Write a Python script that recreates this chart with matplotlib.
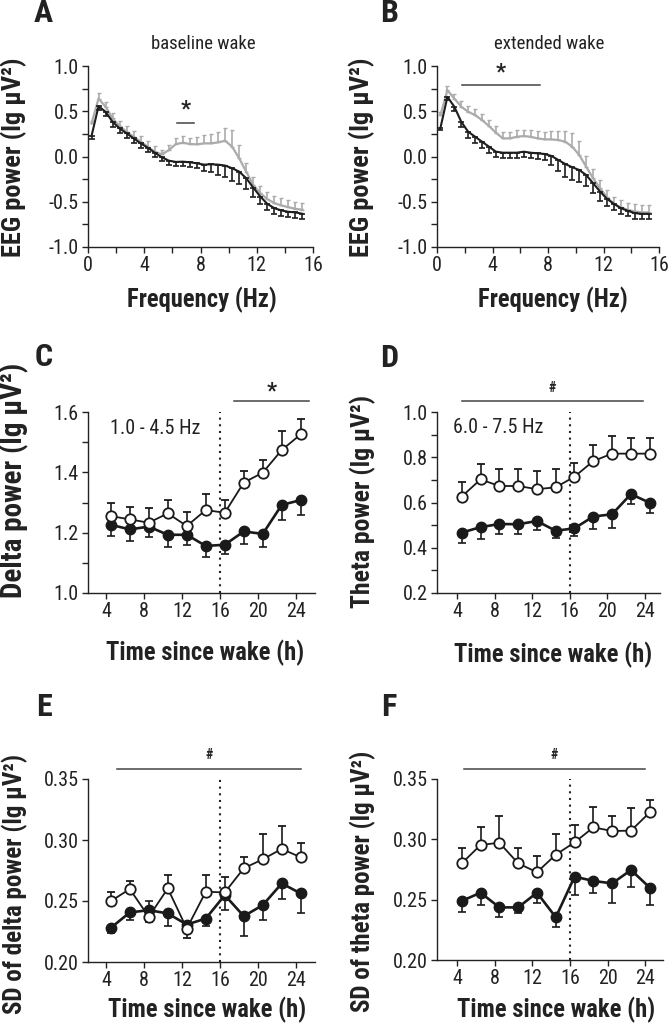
import matplotlib
matplotlib.use('Agg')
import matplotlib.pyplot as plt
from matplotlib import font_manager
from matplotlib.ticker import MultipleLocator, FormatStrFormatter

# pick a condensed sans font if one is installed
_fonts = font_manager.fontManager.ttflist
_names = {f.name for f in _fonts}
_stretch = 'normal'
_family = 'Liberation Sans'
for cand in ['Liberation Sans Narrow', 'Arial Narrow', 'Roboto Condensed',
             'Open Sans Condensed', 'DejaVu Sans Condensed']:
    if cand in _names:
        _family = cand
        break
else:
    for f in _fonts:
        if f.name in ('Liberation Sans', 'Roboto', 'Open Sans', 'DejaVu Sans') and \
                str(f.stretch) in ('condensed', 'semi-condensed', 'extra-condensed', '75', '87', '62'):
            _family = f.name
            _stretch = 'condensed'
            break
plt.rcParams['font.family'] = [_family, 'Liberation Sans', 'DejaVu Sans']
plt.rcParams['font.stretch'] = _stretch
NARROW = (_family != 'Liberation Sans') or _stretch == 'condensed'
SC = 1.0 if NARROW else 0.86   # shrink text a bit when no condensed face exists

# ---------------- data ----------------
freq = [0.25, 0.75, 1.25, 1.75, 2.25, 2.75, 3.25, 3.75, 4.25, 4.75, 5.25, 5.75,
        6.25, 6.75, 7.25, 7.75, 8.25, 8.75, 9.25, 9.75, 10.25, 10.75, 11.25,
        11.75, 12.25, 12.75, 13.25, 13.75, 14.25, 14.75, 15.25]

# Panel A: baseline wake
a_black = [0.226, 0.556, 0.494, 0.383, 0.31, 0.255, 0.2, 0.145, 0.097, 0.042, -0.009,
           -0.046, -0.06, -0.057, -0.064, -0.075, -0.09, -0.086, -0.09, -0.1, -0.13,
           -0.167, -0.24, -0.343, -0.442, -0.523, -0.571, -0.596, -0.611, -0.618, -0.633]
a_black_err = [0.03, 0.04, 0.05, 0.055, 0.055, 0.055, 0.055, 0.055, 0.05, 0.05, 0.045,
               0.045, 0.045, 0.05, 0.05, 0.055, 0.07, 0.09, 0.11, 0.13, 0.14, 0.14,
               0.12, 0.1, 0.08, 0.07, 0.06, 0.06, 0.06, 0.06, 0.06]
a_gray = [0.365, 0.64, 0.55, 0.42, 0.336, 0.273, 0.218, 0.163, 0.108, 0.053, 0.024,
          0.07, 0.138, 0.152, 0.138, 0.134, 0.145, 0.145, 0.156, 0.174, 0.108, -0.02,
          -0.167, -0.314, -0.405, -0.471, -0.515, -0.541, -0.56, -0.578, -0.589]
a_gray_err = [0.03, 0.06, 0.05, 0.06, 0.06, 0.065, 0.065, 0.065, 0.065, 0.06, 0.05,
              0.06, 0.07, 0.07, 0.07, 0.08, 0.09, 0.1, 0.12, 0.14, 0.18, 0.15, 0.1,
              0.09, 0.08, 0.08, 0.08, 0.08, 0.08, 0.08, 0.08]

# Panel B: extended wake
b_black = [0.318, 0.659, 0.55, 0.383, 0.273, 0.218, 0.163, 0.108, 0.053, 0.042, 0.042,
           0.042, 0.053, 0.042, 0.035, 0.028, 0.006, -0.039, -0.083, -0.119, -0.149,
           -0.204, -0.295, -0.387, -0.468, -0.523, -0.571, -0.6, -0.626, -0.633, -0.633]
b_black_err = [0.03, 0.04, 0.05, 0.06, 0.065, 0.065, 0.065, 0.065, 0.06, 0.06, 0.055,
               0.055, 0.055, 0.06, 0.06, 0.07, 0.1, 0.12, 0.14, 0.14, 0.13, 0.12,
               0.11, 0.1, 0.08, 0.07, 0.06, 0.06, 0.06, 0.06, 0.06]
b_gray = [0.457, 0.732, 0.64, 0.55, 0.494, 0.457, 0.402, 0.336, 0.262, 0.2, 0.2,
          0.218, 0.226, 0.218, 0.2, 0.189, 0.189, 0.182, 0.163, 0.108, 0.017, -0.112,
          -0.24, -0.35, -0.45, -0.523, -0.563, -0.589, -0.607, -0.618, -0.618]
b_gray_err = [0.03, 0.05, 0.055, 0.06, 0.065, 0.07, 0.07, 0.07, 0.07, 0.07, 0.07,
              0.07, 0.07, 0.075, 0.08, 0.08, 0.09, 0.1, 0.12, 0.15, 0.15, 0.12,
              0.1, 0.09, 0.08, 0.08, 0.08, 0.08, 0.08, 0.08, 0.08]

hours = [4.5, 6.5, 8.5, 10.5, 12.5, 14.5, 16.5, 18.5, 20.5, 22.5, 24.5]

# Panel C: delta power 1.0-4.5 Hz
c_open = [1.255, 1.244, 1.233, 1.264, 1.222, 1.275, 1.266, 1.366, 1.399, 1.474, 1.526]
c_open_lo = [0, 0, 0, 0, 0, 0, 0, 0, 0, 0, 0]
c_open_hi = [0.045, 0.042, 0.048, 0.044, 0.048, 0.052, 0.042, 0.039, 0.041, 0.062, 0.05]
c_fill = [1.226, 1.211, 1.22, 1.193, 1.193, 1.156, 1.16, 1.204, 1.196, 1.292, 1.308]
c_fill_lo = [0.036, 0.038, 0.033, 0.041, 0.033, 0.037, 0.03, 0.041, 0.044, 0.05, 0.049]
c_fill_hi = [0, 0, 0, 0, 0, 0, 0, 0, 0, 0, 0]

# Panel D: theta power 6.0-7.5 Hz
d_open = [0.626, 0.702, 0.673, 0.673, 0.659, 0.667, 0.714, 0.783, 0.816, 0.816, 0.816]
d_open_lo = [0, 0, 0, 0, 0, 0, 0, 0, 0, 0, 0]
d_open_hi = [0.066, 0.07, 0.073, 0.077, 0.081, 0.082, 0.061, 0.07, 0.077, 0.071, 0.07]
d_fill = [0.467, 0.491, 0.505, 0.504, 0.518, 0.475, 0.486, 0.538, 0.548, 0.637, 0.599]
d_fill_lo = [0.044, 0.052, 0.044, 0.043, 0.039, 0.033, 0.036, 0.055, 0.062, 0.044, 0.047]
d_fill_hi = [0, 0, 0, 0, 0, 0, 0, 0, 0, 0, 0]

# Panel E: SD of delta power
e_open = [0.2499, 0.2598, 0.237, 0.2603, 0.2274, 0.2576, 0.257, 0.2768, 0.2842, 0.2927, 0.2858]
e_open_lo = [0, 0, 0.004, 0, 0.0077, 0, 0, 0, 0, 0, 0]
e_open_hi = [0.0077, 0.0066, 0, 0.011, 0, 0.0137, 0.013, 0.0096, 0.0208, 0.0189, 0.0116]
e_fill = [0.228, 0.2406, 0.2425, 0.2398, 0.2307, 0.2356, 0.2548, 0.2376, 0.2466, 0.2644, 0.2562]
e_fill_lo = [0.004, 0.0058, 0, 0.0105, 0.003, 0.0063, 0.0123, 0.0162, 0.0118, 0.0131, 0.0164]
e_fill_hi = [0, 0, 0.0075, 0, 0, 0, 0, 0, 0, 0, 0]

# Panel F: SD of theta power
f_open = [0.2801, 0.2953, 0.2972, 0.2801, 0.2727, 0.2873, 0.2975, 0.3099, 0.3069, 0.3072, 0.3224]
f_open_lo = [0, 0, 0, 0, 0, 0, 0, 0, 0, 0, 0]
f_open_hi = [0.0124, 0.0152, 0.0224, 0.0124, 0.0135, 0.0171, 0.0144, 0.0172, 0.0127, 0.0185, 0.0102]
f_fill = [0.2489, 0.2558, 0.2436, 0.2436, 0.2558, 0.2354, 0.2691, 0.2655, 0.2635, 0.2746, 0.2599]
f_fill_lo = [0.0088, 0.0102, 0.0077, 0.0049, 0.0088, 0.0078, 0.0152, 0.0103, 0.0165, 0.0138, 0.0143]
f_fill_hi = [0, 0, 0, 0, 0, 0, 0, 0, 0, 0, 0]

# ---------------- figure ----------------
W, H = 670, 1032
fig = plt.figure(figsize=(W / 100, H / 100), dpi=100)
INK = '#222222'
TICK_FS = 14.5
XLAB_FS = 17.7


def make_ax(l, t, r, b):
    ax = fig.add_axes([l / W, 1 - b / H, (r - l) / W, (b - t) / H])
    ax._px = (l, t, r, b)
    for s in ('top', 'right'):
        ax.spines[s].set_visible(False)
    for s in ('left', 'bottom'):
        ax.spines[s].set_linewidth(1.0)
        ax.spines[s].set_color(INK)
    ax.tick_params(which='both', direction='out', length=4.5, width=1.0,
                   labelsize=TICK_FS * SC, colors=INK, pad=2)
    return ax


def frac(ax, px, py):
    l, t, r, b = ax._px
    return (px - l) / (r - l), (b - py) / (b - t)


def labels(ax, xl, xpos, yl, ypos, yfs):
    ax.set_xlabel(xl, fontsize=XLAB_FS * SC, fontweight='bold', va='center', color=INK)
    ax.xaxis.set_label_coords(*frac(ax, *xpos))
    ax.set_ylabel(yl, fontsize=yfs * SC, fontweight='bold', va='center', color=INK)
    ax.yaxis.set_label_coords(*frac(ax, *ypos))


def panel_letter(letter, px, py):
    fig.text(px / W, 1 - py / H, letter, fontsize=23, fontweight='bold',
             ha='center', va='center', color=INK)


def spectrum(ax, black, black_err, gray, gray_err):
    z = [0] * len(freq)
    ax.errorbar(freq, gray, yerr=[z, gray_err], color='#ababab', lw=1.6,
                elinewidth=1.2, capsize=1.5, capthick=1.0, zorder=2)
    ax.errorbar(freq, black, yerr=[black_err, z], color='#1e1e1e', lw=1.5,
                elinewidth=1.2, capsize=2, capthick=1.2, zorder=3)
    ax.set_xlim(0, 16)
    ax.set_ylim(-1.0, 1.0)
    ax.xaxis.set_major_locator(MultipleLocator(4))
    ax.xaxis.set_minor_locator(MultipleLocator(2))
    ax.yaxis.set_major_locator(MultipleLocator(0.5))
    ax.yaxis.set_minor_locator(MultipleLocator(0.25))
    ax.yaxis.set_major_formatter(FormatStrFormatter('%.1f'))


def timecourse(ax, o, o_lo, o_hi, f, f_lo, f_hi, xlim, ylim):
    ax.errorbar(hours, f, yerr=[f_lo, f_hi], color='#1a1a1a', lw=1.9,
                marker='o', ms=7.5, mfc='#1a1a1a', mec='#1a1a1a',
                elinewidth=1.2, capsize=3, capthick=1.2, zorder=3)
    ax.errorbar(hours, o, yerr=[o_lo, o_hi], color='#1a1a1a', lw=1.3,
                marker='o', ms=7.5, mfc='white', mec='#1a1a1a', mew=1.3,
                elinewidth=1.2, capsize=3, capthick=1.2, zorder=4)
    ax.axvline(16, color=INK, ls=(0, (1, 2.2)), lw=1.5, zorder=1)
    ax.set_xlim(*xlim)
    ax.set_ylim(*ylim)
    ax.set_xticks([4, 8, 12, 16, 20, 24])


def sig_bar(ax, x0, x1, y, ys, sym, fs=15):
    ax.plot([x0, x1], [y, y], color='#444444', lw=1.1, clip_on=False)
    ax.text((x0 + x1) / 2, ys, sym, ha='center', va='center', fontsize=fs,
            fontweight='bold', color=INK, clip_on=False)


ylab_pow = 'EEG power (lg μV²)'

# A
axA = make_ax(88, 66, 313, 247)
spectrum(axA, a_black, a_black_err, a_gray, a_gray_err)
labels(axA, 'Frequency (Hz)', (202, 300), ylab_pow, (14, 157), 19)
axA.text(8.2, 1.245, 'baseline wake', ha='center', va='center', fontsize=13.5 * SC,
         color=INK)
sig_bar(axA, 6.3, 7.55, 0.365, 0.52, '*', 16)
panel_letter('A', 43, 13)

# B
axB = make_ax(437, 66, 659, 247)
spectrum(axB, b_black, b_black_err, b_gray, b_gray_err)
labels(axB, 'Frequency (Hz)', (553, 300), ylab_pow, (362, 157), 19)
axB.text(8.1, 1.245, 'extended wake', ha='center', va='center', fontsize=13.5 * SC,
         color=INK)
sig_bar(axB, 1.8, 7.4, 0.787, 0.935, '*', 16)
panel_letter('B', 389, 13)

# C
axC = make_ax(88, 412, 315, 593)
timecourse(axC, c_open, c_open_lo, c_open_hi, c_fill, c_fill_lo, c_fill_hi,
           (2.1, 26.0), (1.0, 1.6))
axC.yaxis.set_major_locator(MultipleLocator(0.2))
axC.yaxis.set_minor_locator(MultipleLocator(0.1))
axC.yaxis.set_major_formatter(FormatStrFormatter('%.1f'))
labels(axC, 'Time since wake (h)', (205, 653), 'Delta power (lg μV²)', (14, 480), 21)
axC.text(4.4, 1.545, '1.0 - 4.5 Hz', ha='left', va='center', fontsize=14.5 * SC,
         color=INK)
sig_bar(axC, 17.5, 25.4, 1.635, 1.67, '*', 16)
panel_letter('C', 44, 357)

# D
axD = make_ax(437, 412, 660, 593)
timecourse(axD, d_open, d_open_lo, d_open_hi, d_fill, d_fill_lo, d_fill_hi,
           (1.87, 25.6), (0.2, 1.0))
axD.yaxis.set_major_locator(MultipleLocator(0.2))
axD.yaxis.set_minor_locator(MultipleLocator(0.1))
axD.yaxis.set_major_formatter(FormatStrFormatter('%.1f'))
labels(axD, 'Time since wake (h)', (553, 655), 'Theta power (lg μV²)', (363, 501), 18.5)
axD.text(3.54, 0.93, '6.0 - 7.5 Hz', ha='left', va='center', fontsize=14.5 * SC,
         color=INK)
sig_bar(axD, 4.53, 23.8, 1.048, 1.107, '#', 10)
panel_letter('D', 389, 358)

# E
axE = make_ax(88, 779, 315, 962)
timecourse(axE, e_open, e_open_lo, e_open_hi, e_fill, e_fill_lo, e_fill_hi,
           (2.1, 26.0), (0.20, 0.35))
axE.yaxis.set_major_locator(MultipleLocator(0.05))
axE.yaxis.set_major_formatter(FormatStrFormatter('%.2f'))
labels(axE, 'Time since wake (h)', (207, 1010), 'SD of delta power (lg μV²)', (15, 884), 18)
sig_bar(axE, 5.14, 24.5, 0.358, 0.370, '#', 10)
panel_letter('E', 44, 707)

# F
axF = make_ax(437, 779, 663, 960)
timecourse(axF, f_open, f_open_lo, f_open_hi, f_fill, f_fill_lo, f_fill_hi,
           (1.87, 25.9), (0.20, 0.35))
axF.yaxis.set_major_locator(MultipleLocator(0.05))
axF.yaxis.set_major_formatter(FormatStrFormatter('%.2f'))
labels(axF, 'Time since wake (h)', (556, 1010), 'SD of theta power (lg μV²)', (363, 881), 18)
sig_bar(axF, 4.7, 24.0, 0.358, 0.370, '#', 10)
panel_letter('F', 389, 707)

fig.savefig('out.png', dpi=100)
